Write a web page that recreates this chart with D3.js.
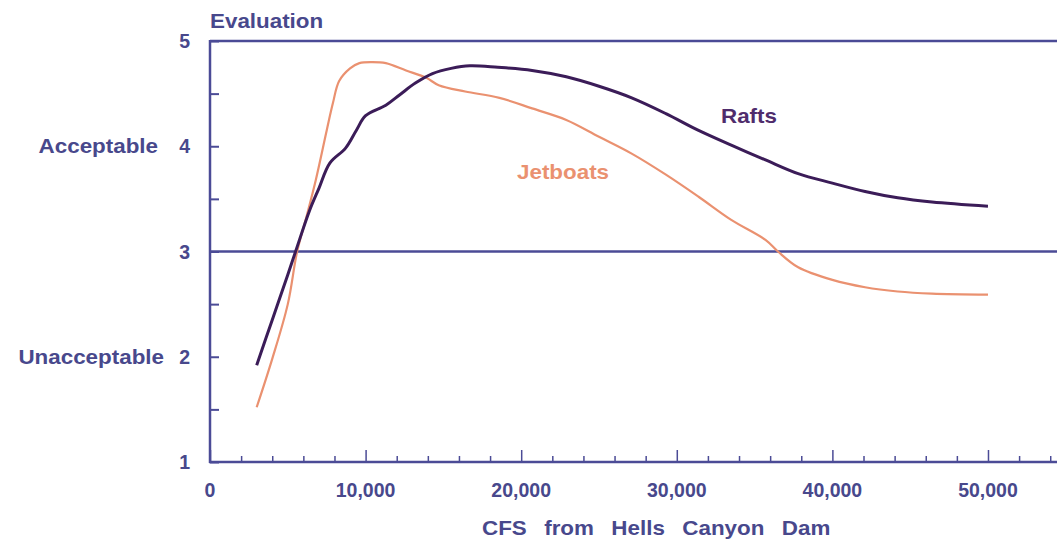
<!DOCTYPE html>
<html>
<head>
<meta charset="utf-8">
<script src="https://cdn.jsdelivr.net/npm/d3@7"></script>
<style>
  html, body { margin: 0; padding: 0; background: #ffffff; }
  svg { display: block; }
</style>
</head>
<body>
<svg id="chart" width="1057" height="544"></svg>
<script>
// ---- Data ----
const raftsCFS = [3000, 4000, 5000, 5500, 6400, 7000, 7700, 8700, 9400, 10000, 11300, 12200, 13200, 14300, 15500, 16700, 18500, 20700, 22900, 25000, 27100, 29300, 31400, 33500, 35700, 37800, 40000, 42100, 44200, 46400, 50000];
const raftsEval = [1.92, 2.35, 2.78, 3.0, 3.39, 3.6, 3.84, 3.98, 4.15, 4.29, 4.39, 4.49, 4.60, 4.69, 4.74, 4.765, 4.75, 4.72, 4.66, 4.57, 4.46, 4.31, 4.15, 4.01, 3.87, 3.74, 3.65, 3.57, 3.51, 3.47, 3.43];

const jetCFS = [3000, 4000, 5000, 5600, 6200, 6800, 7500, 7900, 8300, 9000, 9600, 10400, 11300, 12600, 13900, 14700, 16400, 18600, 20700, 22900, 25000, 27100, 29300, 31400, 33500, 35700, 36500, 37800, 40000, 42100, 44200, 46400, 50000];
const jetEval = [1.52, 1.98, 2.5, 3.0, 3.33, 3.68, 4.15, 4.41, 4.62, 4.74, 4.79, 4.80, 4.79, 4.72, 4.65, 4.58, 4.52, 4.46, 4.36, 4.25, 4.09, 3.93, 3.73, 3.52, 3.30, 3.11, 3.0, 2.85, 2.73, 2.66, 2.62, 2.60, 2.59];

const xMajorTicks = [0, 10000, 20000, 30000, 40000, 50000];
const xTickLabels = ["0", "10,000", "20,000", "30,000", "40,000", "50,000"];
const yMajorTicks = [1, 2, 3, 4, 5];
const yTickLabels = ["1", "2", "3", "4", "5"];
const yCategoryValues = [4, 2];
const yCategoryLabels = ["Acceptable", "Unacceptable"];
const gridValues = [5, 3];

// ---- Layout ----
const svg = d3.select("#chart");
const axisColor = "#4b4b96";
const textColor = "#48488c";
const raftsColor = "#3b1c58";
const raftsLabelColor = "#4f2c6c";
const jetColor = "#ea9170";

const x = d3.scaleLinear().domain([0, 54500]).range([210, 1058]);
const y = d3.scaleLinear().domain([1, 5]).range([462, 41]);

const numFont = "'Liberation Sans', Arial, sans-serif";

// grid lines (5 and 3)
svg.selectAll("line.grid").data(gridValues).enter().append("line")
  .attr("class", "grid")
  .attr("x1", x(0)).attr("x2", 1057)
  .attr("y1", d => y(d)).attr("y2", d => y(d))
  .attr("stroke", axisColor).attr("stroke-width", 2.5);

// x axis
const xAxis = d3.axisTop(x)
  .tickValues(d3.range(0, 54001, 2000))
  .tickSize(6)
  .tickFormat("");
const gx = svg.append("g").attr("transform", `translate(0,${y(1)})`).call(xAxis);
gx.select(".domain").remove();
gx.selectAll(".tick line").attr("stroke", axisColor).attr("stroke-width", 1.5)
  .attr("y2", d => (d % 10000 === 0 ? -12 : -6));
svg.append("line")
  .attr("x1", x(0) - 1).attr("x2", 1057)
  .attr("y1", y(1)).attr("y2", y(1))
  .attr("stroke", axisColor).attr("stroke-width", 2.5);

// x tick labels
svg.selectAll("text.xlab").data(xMajorTicks).enter().append("text")
  .attr("x", d => x(d)).attr("y", 497)
  .attr("text-anchor", "middle")
  .attr("font-family", numFont).attr("font-weight", "bold").attr("font-size", 19.5)
  .attr("fill", textColor)
  .text((d, i) => xTickLabels[i]);

// y axis
const yAxis = d3.axisRight(y)
  .tickValues(d3.range(1, 5.01, 0.5))
  .tickSize(9)
  .tickFormat("");
const gy = svg.append("g").attr("transform", `translate(${x(0)},0)`).call(yAxis);
gy.select(".domain").remove();
gy.selectAll(".tick line").attr("stroke", axisColor).attr("stroke-width", 2);
svg.append("line")
  .attr("x1", x(0)).attr("x2", x(0))
  .attr("y1", y(5) - 1).attr("y2", y(1) + 1)
  .attr("stroke", axisColor).attr("stroke-width", 2.5);

// y tick labels
svg.selectAll("text.ylab").data(yMajorTicks).enter().append("text")
  .attr("x", 190).attr("y", d => y(d) + 7)
  .attr("text-anchor", "end")
  .attr("font-family", numFont).attr("font-weight", "bold").attr("font-size", 19.5)
  .attr("fill", textColor)
  .text((d, i) => yTickLabels[i]);

// stretched word labels
function word(txt, px, py, anchor, color, extra) {
  const t = svg.append("text")
    .attr("transform", `translate(${px},${py}) scale(1.12,1)`)
    .attr("text-anchor", anchor)
    .attr("font-family", numFont).attr("font-weight", "bold").attr("font-size", 20)
    .attr("fill", color)
    .text(txt);
  if (extra) extra(t);
  return t;
}

yCategoryLabels.forEach((lab, i) => {
  word(lab, i === 0 ? 158 : 164, y(yCategoryValues[i]) + 7, "end", textColor);
});
word("Evaluation", 210, 28, "start", textColor);
word("CFS from Hells Canyon Dam", 482, 535, "start", textColor, t => t.attr("word-spacing", 10));

// curves
const line = d3.line().curve(d3.curveCatmullRom.alpha(0.5));
svg.append("path")
  .attr("d", line(jetCFS.map((c, i) => [x(c), y(jetEval[i])])))
  .attr("fill", "none").attr("stroke", jetColor).attr("stroke-width", 2.2);
svg.append("path")
  .attr("d", line(raftsCFS.map((c, i) => [x(c), y(raftsEval[i])])))
  .attr("fill", "none").attr("stroke", raftsColor).attr("stroke-width", 3);

// series labels
word("Rafts", 721, 123, "start", raftsLabelColor);
word("Jetboats", 517, 179, "start", jetColor);
</script>
</body>
</html>
